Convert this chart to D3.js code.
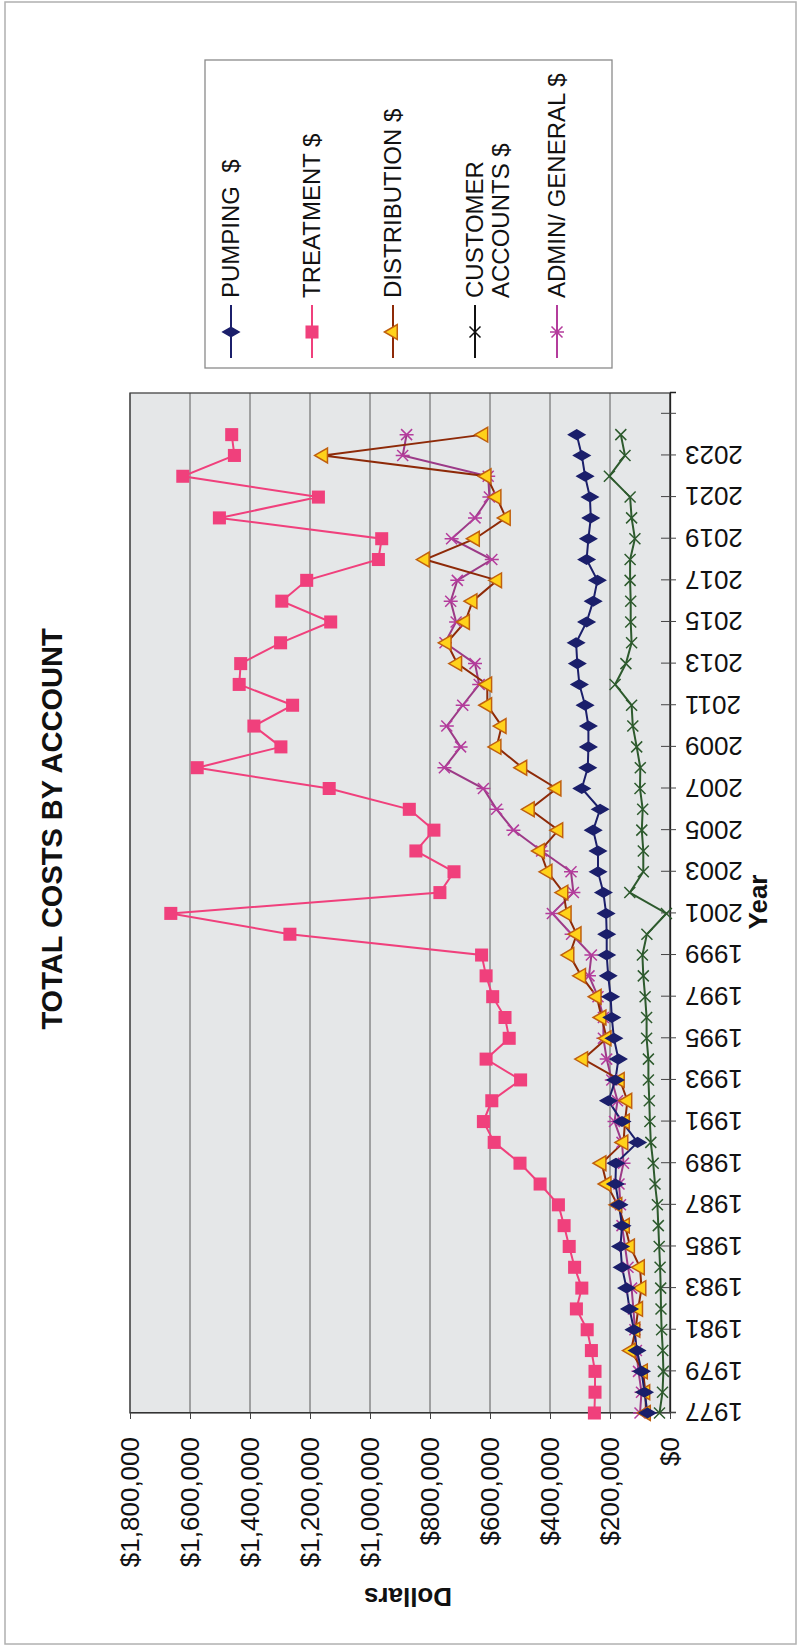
<!DOCTYPE html>
<html>
<head>
<meta charset="utf-8">
<script src="https://cdn.jsdelivr.net/npm/d3@7"></script>
<style>
  body { margin: 0; background: #fff; }
  text { font-family: "Liberation Sans", Arial, sans-serif; fill: #111; }
</style>
</head>
<body>
<div id="chart"></div>
<script>
var years = d3.range(1977, 2025);
var yearTicks = d3.range(1977, 2026, 2);
var dollarTicks = [0, 200000, 400000, 600000, 800000, 1000000, 1200000, 1400000, 1600000, 1800000];

// values in thousands of dollars, 1977..2024
var pumping = [75, 85, 95, 110, 120, 135, 145, 160, 165, 160, 170, 182, 180, 108, 160, 205, 182, 172, 187, 194,
               198, 206, 211, 211, 213, 222, 240, 240, 256, 233, 294, 274, 272, 272, 283, 302, 309, 313, 278, 256,
               242, 278, 272, 264, 267, 283, 294, 311];
var treatment = [252, 250, 250, 262, 276, 312, 294, 318, 336, 353, 372, 433, 500, 586, 622, 594, 498, 613, 536, 550,
                 591, 613, 628, 1267, 1664, 767, 720, 847, 787, 869, 1136, 1576, 1297, 1387, 1258, 1436, 1431, 1298, 1131, 1294,
                 1211, 972, 961, 1502, 1172, 1624, 1452, 1461];
var distribution = [80, 82, 90, 130, 115, 106, 95, 100, 133, 150, 175, 211, 228, 155, 150, 142, 167, 289, 211, 228,
                    244, 296, 335, 311, 344, 355, 408, 433, 372, 467, 378, 492, 578, 561, 609, 609, 709, 744, 683, 658,
                    576, 817, 650, 547, 578, 611, 1156, 622];
var customer = [35, 25, 22, 24, 28, 30, 31, 33, 36, 39, 42, 50, 56, 64, 67, 69, 72, 72, 78, 78,
                83, 89, 92, 77, 12, 134, 89, 89, 94, 91, 100, 99, 111, 124, 128, 183, 147, 128, 131, 131,
                133, 133, 117, 128, 133, 202, 150, 164];
var admin = [100, 95, 105, 112, 117, 122, 128, 140, 150, 160, 165, 170, 155, 160, 185, 175, 194, 211, 222, 222,
             240, 270, 262, 328, 392, 322, 330, 428, 522, 578, 622, 752, 698, 744, 691, 636, 650, 750, 713, 731,
             709, 594, 728, 650, 602, 606, 891, 878];

var seriesNames = ["PUMPING  $", "TREATMENT $", "DISTRIBUTION $", "CUSTOMER\nACCOUNTS $", "ADMIN/ GENERAL $"];

function init() {
    var pageW = 798, pageH = 1646;

    var svg = d3.select("#chart").append("svg")
                .attr("width", pageW)
                .attr("height", pageH);

    // page frame of the scanned sheet
    svg.append("rect")
       .attr("x", 5).attr("y", 2)
       .attr("width", 791).attr("height", 1642)
       .attr("fill", "none").attr("stroke", "#b0b0b0").attr("stroke-width", 1.5);

    // the chart is laid out landscape, then turned a quarter turn anticlockwise
    var g = svg.append("g")
               .attr("transform", "translate(0," + pageH + ") rotate(-90)");

    var xScale = d3.scaleLinear().domain([1977, 2026]).range([233, 1253]);
    var yScale = d3.scaleLinear().domain([0, 1800000]).range([670, 130]);

    // plot area
    g.append("rect")
     .attr("x", xScale(1977)).attr("y", yScale(1800000))
     .attr("width", xScale(2026) - xScale(1977))
     .attr("height", yScale(0) - yScale(1800000))
     .attr("fill", "#e5e7e8");

    // gridlines
    g.selectAll(".grid").data(dollarTicks).enter().append("line")
     .attr("class", "grid")
     .attr("x1", xScale(1977)).attr("x2", xScale(2026))
     .attr("y1", d => yScale(d)).attr("y2", d => yScale(d))
     .attr("stroke", "#5a5a5a").attr("stroke-width", 1);

    g.append("rect")
     .attr("x", xScale(1977)).attr("y", yScale(1800000))
     .attr("width", xScale(2026) - xScale(1977))
     .attr("height", yScale(0) - yScale(1800000))
     .attr("fill", "none").attr("stroke", "#444").attr("stroke-width", 1.3);

    // dollar axis
    var yAxis = g.append("g")
                 .attr("transform", "translate(" + xScale(1977) + ",0)")
                 .call(d3.axisLeft(yScale).tickValues(dollarTicks)
                         .tickFormat(d3.format("$,")).tickSize(6).tickPadding(18));
    yAxis.select(".domain").attr("stroke", "#333");
    yAxis.selectAll(".tick line").attr("stroke", "#444");
    yAxis.selectAll("text").attr("font-size", 26).attr("fill", "#111")
         .attr("font-family", "'Liberation Sans', Arial, sans-serif");

    // year axis
    var xAxis = g.append("g")
                 .attr("transform", "translate(0," + yScale(0) + ")")
                 .call(d3.axisBottom(xScale).tickValues(yearTicks)
                         .tickFormat(d => d <= 2023 ? d : "").tickSize(6));
    xAxis.select(".domain").attr("stroke", "#222").attr("stroke-width", 1.3);
    xAxis.selectAll(".tick line").attr("y1", -9).attr("y2", 6).attr("stroke", "#444");
    xAxis.selectAll(".tick text")
         .attr("font-size", 26).attr("fill", "#111")
         .attr("font-family", "'Liberation Sans', Arial, sans-serif")
         .attr("text-anchor", "end")
         .attr("transform", "translate(0,15) rotate(-90)")
         .attr("x", 0).attr("y", 0).attr("dy", "0.35em");

    // titles
    g.append("text")
     .attr("x", 817).attr("y", 62)
     .attr("text-anchor", "middle")
     .attr("font-size", 29).attr("font-weight", "bold")
     .text("TOTAL COSTS BY ACCOUNT");

    g.append("text")
     .attr("x", 744).attr("y", 767)
     .attr("text-anchor", "middle")
     .attr("font-size", 26).attr("font-weight", "bold")
     .text("Year");

    g.append("text")
     .attr("transform", "translate(58,408) rotate(-90)")
     .attr("text-anchor", "middle")
     .attr("font-size", 26).attr("font-weight", "bold")
     .text("Dollars");

    // marker shapes
    var diamond = d3.symbol().type(d3.symbolDiamond).size(75)();
    var square = d3.symbol().type(d3.symbolSquare).size(170)();
    var triangle = d3.symbol().type(d3.symbolTriangle).size(95)();
    var cross = "M-5.5,-5.5L5.5,5.5M-5.5,5.5L5.5,-5.5";
    var star = "M-5.5,-5.5L5.5,5.5M-5.5,5.5L5.5,-5.5M0,-7L0,7";

    var series = [
        { values: pumping, line: "#1b1f6b", path: diamond, fill: "#1b1f6b", stroke: "#1b1f6b", legendLine: "#1b1f6b" },
        { values: treatment, line: "#f0407c", path: square, fill: "#f0407c", stroke: "none", legendLine: "#f0407c" },
        { values: distribution, line: "#8e2a08", path: triangle, fill: "#ffd21a", stroke: "#c0600f", legendLine: "#8e2a08" },
        { values: customer, line: "#2d5a2d", path: cross, fill: "none", stroke: "#2d5a2d", legendLine: "#111", legendMark: "#111" },
        { values: admin, line: "#9c3a87", path: star, fill: "none", stroke: "#b43c9c", legendLine: "#b43c9c" }
    ];

    var line = d3.line()
                 .x((d, i) => xScale(years[i]))
                 .y(d => yScale(d * 1000));

    // draw lines first, then markers on top (reverse order so pumping etc. sit above)
    series.slice().reverse().forEach(function(s) {
        g.append("path")
         .datum(s.values)
         .attr("d", line)
         .attr("fill", "none")
         .attr("stroke", s.line)
         .attr("stroke-width", 2);
    });

    series.slice().reverse().forEach(function(s) {
        g.selectAll(null).data(s.values).enter().append("path")
         .attr("transform", (d, i) => "translate(" + xScale(years[i]) + "," + yScale(d * 1000) + ")")
         .attr("d", s.path)
         .attr("fill", s.fill)
         .attr("stroke", s.stroke)
         .attr("stroke-width", 1.5);
    });

    // legend
    var legend = g.append("g");
    legend.append("rect")
          .attr("x", 1278).attr("y", 205)
          .attr("width", 308).attr("height", 407)
          .attr("fill", "#fff").attr("stroke", "#8a8a8a").attr("stroke-width", 1.3);

    var legendY = [231, 312, 393, 475, 557];
    series.forEach(function(s, i) {
        var ly = legendY[i];
        legend.append("line")
              .attr("x1", 1288).attr("x2", 1341)
              .attr("y1", ly).attr("y2", ly)
              .attr("stroke", s.legendLine).attr("stroke-width", 2);
        legend.append("path")
              .attr("transform", "translate(1314," + ly + ")")
              .attr("d", s.path)
              .attr("fill", s.fill)
              .attr("stroke", s.legendMark || s.stroke)
              .attr("stroke-width", 1.5);
        seriesNames[i].split("\n").forEach(function(t, j) {
            legend.append("text")
                  .attr("x", 1348).attr("y", ly + j * 26)
                  .attr("dy", "0.35em")
                  .attr("font-size", 24)
                  .attr("xml:space", "preserve")
                  .style("white-space", "pre")
                  .text(t);
        });
    });
}

window.onload = init;
</script>
</body>
</html>
